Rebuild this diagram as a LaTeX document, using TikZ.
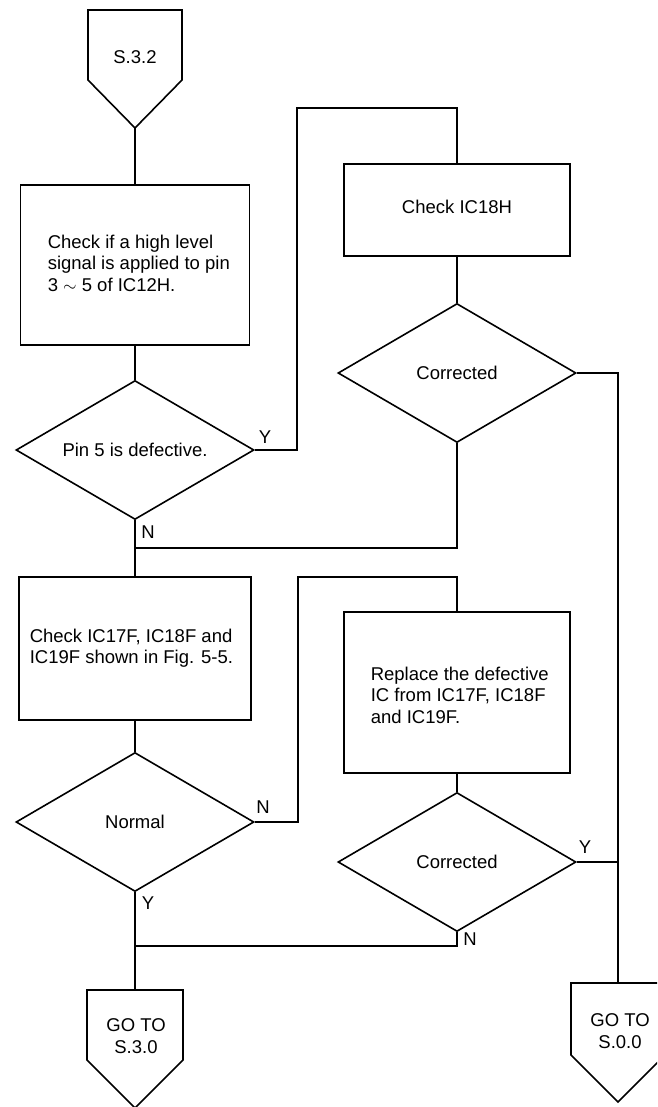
\documentclass[tikz,border=0pt]{standalone}
\usepackage{fontspec}
\setmainfont{Liberation Sans}
\usetikzlibrary{shapes.geometric}
\begin{document}
\begin{tikzpicture}[x=1pt,y=-1pt, line width=1.6pt, line join=miter,
  box/.style={draw, rectangle, inner sep=0pt},
  dec/.style={draw, diamond, inner sep=0pt, shape aspect=1.7, minimum width=238pt, minimum height=139pt, font=\fontsize{18.5}{21.5}\selectfont},
  txt/.style={font=\fontsize{18.5}{21.5}\selectfont, inner sep=0pt, align=left},
  ctxt/.style={font=\fontsize{18.5}{21.5}\selectfont, inner sep=0pt, align=center},
  lbl/.style={font=\fontsize{18.5}{21.5}\selectfont, inner sep=0pt}]
\useasboundingbox (0,0) rectangle (657,1107);
\clip (0,0) rectangle (657,1107);
\fill[white] (0,0) rectangle (657,1107);

% top pentagon
\draw (88,80) -- (88,10) -- (182,10) -- (182,80) -- (135,128) -- cycle;
\coordinate (p0) at (135,128);
\node[ctxt] (p0t) at (135,57) {S.3.2};

% left column
\node[box, minimum width=229pt, minimum height=160pt] (b1) at (135,265) {};
\node[txt, anchor=west] (b1t) at (47,263) {Check if a high level\\signal is applied to pin\\3 $\sim$ 5 of IC12H.};
\node[dec] (d1) at (135,450) {Pin 5 is defective.};
\node[box, minimum width=232pt, minimum height=143pt] (b3) at (135,648.5) {};
\node[txt, anchor=west] (b3t) at (29,648) {Check IC17F, IC18F and\\IC19F shown in Fig. 5-5.};
\node[dec] (d3) at (135,822) {Normal};

% right column
\node[box, minimum width=226pt, minimum height=92pt] (b2) at (457,210) {};
\node[ctxt] (b2t) at (457,207) {Check IC18H};
\node[dec] (d2) at (457,373) {Corrected};
\node[box, minimum width=226pt, minimum height=161pt] (b4) at (457,692.5) {};
\node[txt, anchor=west] (b4t) at (370,695) {Replace the defective\\IC from IC17F, IC18F\\and IC19F.};
\node[dec] (d4) at (457,862) {Corrected};

% bottom pentagons
\draw (87,1060) -- (87,990) -- (183,990) -- (183,1060) -- (135,1108) -- cycle;
\coordinate (p1) at (135,990);
\node[ctxt] (p1t) at (136,1036) {GO TO\\S.3.0};
\draw (571,1055) -- (571,983) -- (665,983) -- (665,1055) -- (618,1102) -- cycle;
\coordinate (p2) at (618,983);
\node[ctxt] (p2t) at (620,1031) {GO TO\\S.0.0};

% routing points
\coordinate (c1) at (297,108);
\coordinate (c2) at (298,577);
\coordinate (j1) at (135,548);
\coordinate (j2) at (618,862);
\coordinate (j3) at (135,946);

% connectors
\draw (p0) -- (b1);
\draw (b1) -- (d1);
\draw (d1.east) -| (c1) -| (b2.north);
\draw (b2) -- (d2);
\draw (d1.south) -- (b3.north);
\draw (d2.south) |- (j1);
\draw (d2.east) -| (p2);
\draw (b3) -- (d3);
\draw (d3.east) -| (c2) -| (b4.north);
\draw (b4) -- (d4);
\draw (d4.east) -- (j2);
\draw (d4.south) |- (j3);
\draw (d3.south) -- (p1);

% labels
\node[lbl] (ly1) at (265,437) {Y};
\node[lbl] (ln1) at (148,532) {N};
\node[lbl] (ln2) at (263,807) {N};
\node[lbl] (ly2) at (148,903) {Y};
\node[lbl] (ly3) at (585,847) {Y};
\node[lbl] (ln3) at (470,939) {N};
\end{tikzpicture}
\end{document}
